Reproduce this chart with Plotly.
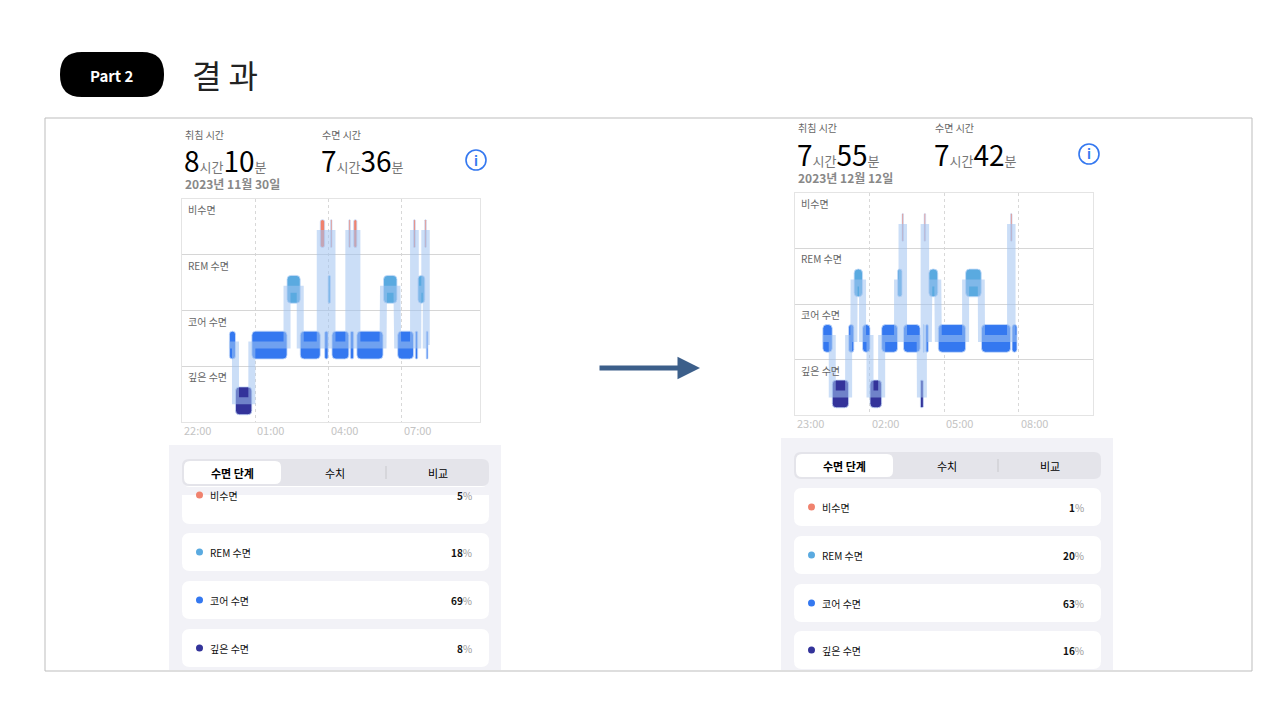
import plotly.graph_objects as go

W, H = 1280, 720
FONT = "Noto Sans CJK KR"

STAGES = ["깊은 수면", "코어 수면", "REM 수면", "비수면"]
COLORS = {"비수면": "#F0826E", "REM 수면": "#5AAAE0", "코어 수면": "#3478F0", "깊은 수면": "#33339A"}

# segments: (stage, start hour, end hour) ; hours past midnight of first day (24 = 00:00)
left_segments = [
    ("코어 수면", 23.94, 24.19), ("깊은 수면", 24.19, 24.86), ("코어 수면", 24.86, 26.30),
    ("REM 수면", 26.30, 26.84), ("코어 수면", 26.84, 27.66), ("비수면", 27.66, 27.84),
    ("코어 수면", 27.84, 27.98), ("REM 수면", 27.98, 28.08), ("비수면", 28.08, 28.14),
    ("코어 수면", 28.14, 28.83), ("비수면", 28.83, 28.89), ("코어 수면", 28.89, 29.03),
    ("비수면", 29.03, 29.16), ("코어 수면", 29.16, 30.23), ("REM 수면", 30.25, 30.80),
    ("코어 수면", 30.83, 31.48), ("비수면", 31.48, 31.55), ("코어 수면", 31.55, 31.65),
    ("REM 수면", 31.66, 31.94), ("비수면", 31.94, 32.0), ("코어 수면", 32.0, 32.07),
]
right_segments = [
    ("코어 수면", 24.12, 24.50), ("깊은 수면", 24.50, 25.16), ("코어 수면", 25.16, 25.37),
    ("REM 수면", 25.38, 25.72), ("코어 수면", 25.72, 26.02), ("깊은 수면", 26.02, 26.49),
    ("코어 수면", 26.49, 27.13), ("REM 수면", 27.13, 27.31), ("비수면", 27.31, 27.37),
    ("코어 수면", 27.37, 28.04), ("깊은 수면", 28.05, 28.17), ("코어 수면", 28.17, 28.20),
    ("비수면", 28.20, 28.26), ("코어 수면", 28.26, 28.37), ("REM 수면", 28.39, 28.75),
    ("코어 수면", 28.77, 29.87), ("REM 수면", 29.87, 30.50), ("코어 수면", 30.51, 31.68),
    ("비수면", 31.68, 31.74), ("코어 수면", 31.74, 31.94),
]
left_ticks = [22, 25, 28, 31]
left_ticklabels = ["22:00", "01:00", "04:00", "07:00"]
right_ticks = [23, 26, 29, 32]
right_ticklabels = ["23:00", "02:00", "05:00", "08:00"]
left_pct = [5, 18, 69, 8]
right_pct = [1, 20, 63, 16]
card_labels = ["비수면", "REM 수면", "코어 수면", "깊은 수면"]

def px(x): return x / W
def py(y): return 1 - y / H

fig = go.Figure()
shapes, ann = [], []

def rrect(x0, y0, x1, y1, r, fill, line=None):
    p = (f"M{px(x0+r)},{py(y0)} L{px(x1-r)},{py(y0)} Q{px(x1)},{py(y0)} {px(x1)},{py(y0+r)} "
         f"L{px(x1)},{py(y1-r)} Q{px(x1)},{py(y1)} {px(x1-r)},{py(y1)} L{px(x0+r)},{py(y1)} "
         f"Q{px(x0)},{py(y1)} {px(x0)},{py(y1-r)} L{px(x0)},{py(y0+r)} Q{px(x0)},{py(y0)} {px(x0+r)},{py(y0)} Z")
    shapes.append(dict(type="path", xref="paper", yref="paper", path=p, fillcolor=fill,
                       line=dict(color=line or fill, width=1 if line else 0), layer="below"))

def text(x, y, t, size=12, color="#000", xa="left", ya="middle", weight="normal"):
    ann.append(dict(x=px(x), y=py(y), xref="paper", yref="paper", text=t, showarrow=False,
                    xanchor=xa, yanchor=ya, font=dict(family=FONT, size=size, color=color, weight=weight)))

# slide decorations
rrect(52, 44, 156, 89, 22, "#000")
text(104, 67, "<b>Part 2</b>", 15, "#fff", "center")
text(182, 66, "결 과", 32, "#222")
shapes.append(dict(type="rect", xref="paper", yref="paper", x0=px(37), x1=px(1244), y0=py(663), y1=py(110),
                   line=dict(color="#BDBDBD", width=1), layer="below"))
ann.append(dict(x=px(692), y=py(360), ax=-102, ay=0, xref="paper", yref="paper",
                showarrow=True, arrowhead=2, arrowsize=0.9,
                arrowwidth=5, arrowcolor="#3C5F8A", text=""))

def panel(segs, ticks, ticklabels, pct, bed, sleep, date, xd, yd, ax, rng, g):
    n = "" if ax == 1 else str(ax)
    x0, x1 = xd; ytop, ybot = yd
    idx = {s: i for i, s in enumerate(STAGES)}
    xs, ys = [], []
    for s, a, b in segs:
        xs += [a, b]; ys += [idx[s] - 0.12, idx[s] - 0.12]
    fig.add_trace(go.Scatter(x=xs, y=ys, mode="lines", line=dict(color="rgba(160,195,240,0.55)", width=7),
                             xaxis="x" + n, yaxis="y" + n, hoverinfo="skip", showlegend=False))
    for st in STAGES:
        ss = [(a, b) for s, a, b in segs if s == st]
        fig.add_trace(go.Bar(orientation="h", base=[a for a, b in ss], x=[b - a for a, b in ss],
                             y=[idx[st] - 0.12] * len(ss), width=0.5, marker=dict(color=COLORS[st],
                             line=dict(color="rgba(200,220,250,0.8)", width=1)),
                             xaxis="x" + n, yaxis="y" + n, showlegend=False))
    fig.layout["xaxis" + n] = dict(domain=[px(x0), px(x1)], range=rng, tickvals=ticks, showticklabels=False,
                                   showgrid=True, gridcolor="#D8D8D8", griddash="dot", zeroline=False,
                                   showline=True, mirror=True, linecolor="#E4E4E4", anchor="y" + n)
    fig.layout["yaxis" + n] = dict(domain=[py(ybot), py(ytop)], range=[-0.5, 3.5], tickvals=[-0.5, 0.5, 1.5, 2.5],
                                   showticklabels=False, showgrid=True, gridcolor="#D6D6D6", zeroline=False,
                                   showline=True, mirror=True, linecolor="#E4E4E4", anchor="x" + n)
    for st in STAGES:
        ann.append(dict(x=rng[0], y=idx[st] + 0.5, xref="x" + n, yref="y" + n, text=st, showarrow=False,
                        xanchor="left", yanchor="top", xshift=4, yshift=-1,
                        font=dict(family=FONT, size=10, color="#666")))
    for t, l in zip(ticks, ticklabels):
        ann.append(dict(x=t, y=py(ybot + 8), xref="x" + n, yref="paper", text=l, showarrow=False,
                        xanchor="left", yanchor="middle", xshift=0, font=dict(family=FONT, size=11, color="#C4C4C4")))
    hx, hy = x0 + 1, ytop - 65
    text(hx, hy, "취침 시간", 10, "#666")
    text(hx + 137, hy, "수면 시간", 10, "#666")
    def big(a, b):
        return (f"<span style='font-size:28px;color:#000'>{a}</span><span style='font-size:13px;color:#777'>시간</span>"
                f"<span style='font-size:28px;color:#000'>{b}</span><span style='font-size:13px;color:#777'>분</span>")
    text(hx - 1, hy + 26, big(*bed), 13)
    text(hx + 136, hy + 26, big(*sleep), 13)
    text(hx, hy + 49, "<b>" + date + "</b>", 12, "#888")
    shapes.append(dict(type="circle", xref="paper", yref="paper", x0=px(x0 + 284), x1=px(x0 + 304),
                       y0=py(hy + 36), y1=py(hy + 16), line=dict(color="#3478F0", width=1.6)))
    text(x0 + 294, hy + 26, "<b>i</b>", 13, "#3478F0", "center")
    gx0, gy0, gy1 = g
    shapes.append(dict(type="rect", xref="paper", yref="paper", x0=px(gx0), x1=px(gx0 + 332),
                       y0=py(gy1), y1=py(gy0), fillcolor="#F2F2F7", line=dict(width=0), layer="below"))
    sx0, sy0 = gx0 + 13, gy0 + 14
    rrect(sx0, sy0, sx0 + 307, sy0 + 27, 7, "#E4E4EA")
    rrect(sx0 + 2, sy0 + 2, sx0 + 99, sy0 + 25, 6, "#FFFFFF")
    shapes.append(dict(type="line", xref="paper", yref="paper", x0=px(sx0 + 204), x1=px(sx0 + 204),
                       y0=py(sy0 + 7), y1=py(sy0 + 20), line=dict(color="#C8C8CC", width=1)))
    text(sx0 + 50, sy0 + 13.5, "<b>수면 단계</b>", 11, "#000", "center")
    text(sx0 + 153, sy0 + 13.5, "수치", 11, "#000", "center")
    text(sx0 + 256, sy0 + 13.5, "비교", 11, "#000", "center")
    return sx0

def cards(sx0, tops, pct, first_cut):
    for i, (t, lab, p) in enumerate(zip(tops, card_labels, pct)):
        top = t
        rrect(sx0, top, sx0 + 307, top + 38, 8, "#FFFFFF")
        cy = top + 19 if not (i == 0 and first_cut) else top + 9
        shapes.append(dict(type="circle", xref="paper", yref="paper", x0=px(sx0 + 14), x1=px(sx0 + 21),
                           y0=py(cy + 3.5), y1=py(cy - 3.5), fillcolor=COLORS[lab], line=dict(width=0)))
        text(sx0 + 26, cy, lab, 10, "#111")
        text(sx0 + 292, cy, f"<b>{p}</b><span style='color:#999'>%</span>", 10, "#111", "right")

sl = panel(left_segments, left_ticks, left_ticklabels, left_pct, ("8", "10"), ("7", "36"), "2023년 11월 30일",
           (174, 472), (191, 414), 1, [22, 34.2], (161, 437, 662))
sr = panel(right_segments, right_ticks, right_ticklabels, right_pct, ("7", "55"), ("7", "42"), "2023년 12월 12일",
           (787, 1085), (185, 407), 2, [23, 35], (773, 430, 662))
cards(sl, [478, 525, 573, 621], left_pct, True)
cards(sr, [480, 528, 576, 623], right_pct, False)
shapes.append(dict(type="rect", xref="paper", yref="paper", x0=px(sl), x1=px(sl + 307), y0=py(487), y1=py(479),
                   fillcolor="#F2F2F7", line=dict(width=0), layer="below"))

fig.update_layout(width=W, height=H, margin=dict(l=0, r=0, t=0, b=0), paper_bgcolor="#fff",
                  plot_bgcolor="rgba(0,0,0,0)", barmode="overlay", barcornerradius=4,
                  shapes=shapes, annotations=ann, showlegend=False)
fig.write_html("out.html", config={"displayModeBar": False})
